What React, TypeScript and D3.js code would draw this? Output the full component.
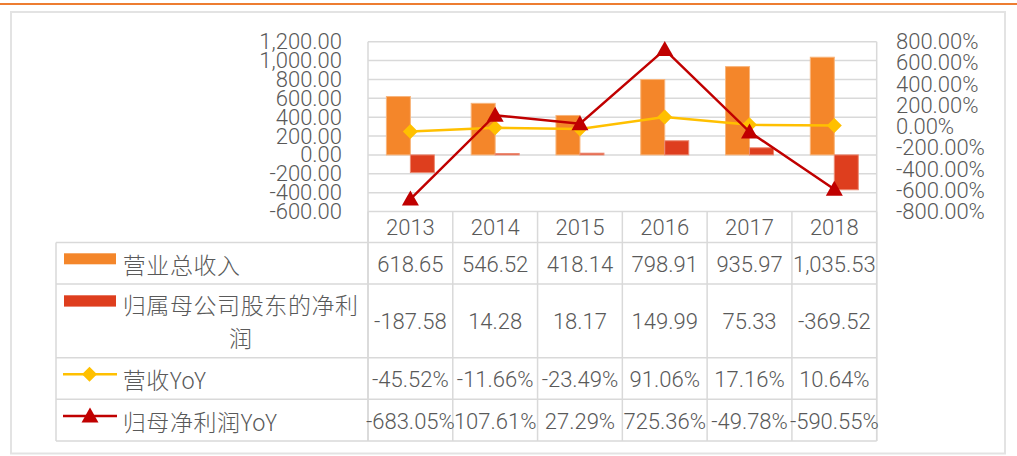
import React from 'react';
import * as d3 from 'd3';

const years = ['2013', '2014', '2015', '2016', '2017', '2018'];
const revenue = [618.65, 546.52, 418.14, 798.91, 935.97, 1035.53];
const netProfit = [-187.58, 14.28, 18.17, 149.99, 75.33, -369.52];
const revenueYoY = [-45.52, -11.66, -23.49, 91.06, 17.16, 10.64];
const profitYoY = [-683.05, 107.61, 27.29, 725.36, -49.78, -590.55];
const leftTicks = [-600, -400, -200, 0, 200, 400, 600, 800, 1000, 1200];
const rightTicks = [-800, -600, -400, -200, 0, 200, 400, 600, 800];

const W = 1017;
const H = 456;
const plotL = 368;
const plotR = 876.7;
const plotT = 41.7;
const plotB = 211.5;

const TXT = '#595959';
const GRID = '#d9d9d9';
const NUM_FONT = 'Roboto, "Liberation Sans", Arial, sans-serif';
const CJK_FONT = '"Noto Sans CJK SC", "Noto Sans", sans-serif';

const C_REV = '#F4862A';
const C_NP = '#DE3E1E';
const C_RYOY = '#FFC000';
const C_PYOY = '#C00000';

export default function App() {
  const x = d3.scaleBand<string>().domain(years).range([plotL, plotR]).padding(0);
  const yL = d3.scaleLinear().domain([-600, 1200]).range([plotB, plotT]);
  const yR = d3.scaleLinear().domain([-800, 800]).range([plotB, plotT]);
  const bw = x.bandwidth() * 0.283;
  const cx = (y: string) => (x(y) as number) + x.bandwidth() / 2;

  const fix = (s: string) => s.replace(/\u2212/g, '-');
  const fmtNum = (v: number) => fix(d3.format(',.2f')(v));
  const fmtPct = (v: number) => fix(d3.format('.2f')(v)) + '%';

  const lineR = d3.line<number>().x((_, i) => cx(years[i])).y((v) => yR(v));

  const tableTop = 242.5;
  const rowLines = [tableTop, 284, 357.7, 399.3, 441];
  const rowCenters = [264, 321, 379, 421.5];
  const tableL = 56;
  const boundaries = years.map((y) => x(y) as number).concat([plotR]);

  const rows: { vals: string[] }[] = [
    { vals: revenue.map(fmtNum) },
    { vals: netProfit.map(fmtNum) },
    { vals: revenueYoY.map(fmtPct) },
    { vals: profitYoY.map(fmtPct) },
  ];

  const dia = (px: number, py: number) =>
    `M${px},${py - 7.5}L${px + 7.5},${py}L${px},${py + 7.5}L${px - 7.5},${py}Z`;
  const tri = (px: number, py: number) =>
    `M${px},${py - 8.5}L${px + 8.5},${py + 6.5}L${px - 8.5},${py + 6.5}Z`;

  return (
    <svg
      width={W}
      height={H}
      style={{ position: 'absolute', left: 0, top: 0, background: '#fff' }}
    >
      <rect x={0} y={0} width={W} height={H} fill="#fff" />
      <line x1={0} x2={W} y1={4} y2={4} stroke="#ED7D31" strokeWidth={2} />
      <rect x={11} y={12} width={994} height={441.5} fill="none" stroke="#e3e3e3" strokeWidth={2} />

      {/* gridlines */}
      {leftTicks.map((t) => (
        <line key={'g' + t} x1={plotL} x2={plotR} y1={yL(t)} y2={yL(t)} stroke={GRID} strokeWidth={1.5} />
      ))}
      <line x1={plotL} x2={plotL} y1={plotT} y2={rowLines[rowLines.length - 1]} stroke={GRID} strokeWidth={1.5} />
      <line x1={plotR} x2={plotR} y1={plotT} y2={rowLines[rowLines.length - 1]} stroke={GRID} strokeWidth={1.5} />

      {/* left axis labels */}
      {leftTicks.map((t) => (
        <text
          key={'l' + t}
          x={342}
          y={yL(t)}
          textAnchor="end"
          dominantBaseline="central"
          fontFamily={NUM_FONT}
          fontWeight={300}
          fontSize={22}
          fill={TXT}
        >
          {fmtNum(t)}
        </text>
      ))}
      {/* right axis labels */}
      {rightTicks.map((t) => (
        <text
          key={'r' + t}
          x={896}
          y={yR(t)}
          textAnchor="start"
          dominantBaseline="central"
          fontFamily={NUM_FONT}
          fontWeight={300}
          fontSize={22}
          fill={TXT}
        >
          {fmtPct(t)}
        </text>
      ))}

      {/* bars */}
      {years.map((y, i) => {
        const c = cx(y);
        const r0 = yL(0);
        const rv = yL(revenue[i]);
        const nv = yL(netProfit[i]);
        return (
          <g key={'b' + y}>
            <rect
              x={c - bw}
              y={Math.min(r0, rv)}
              width={bw}
              height={Math.abs(r0 - rv)}
              fill={C_REV}
              stroke="#F8B57C"
              strokeWidth={1}
            />
            <rect
              x={c}
              y={Math.min(r0, nv)}
              width={bw}
              height={Math.abs(r0 - nv)}
              fill={C_NP}
              stroke="#EC8A72"
              strokeWidth={1}
            />
          </g>
        );
      })}

      {/* lines */}
      <path d={lineR(revenueYoY) || ''} fill="none" stroke={C_RYOY} strokeWidth={2.5} />
      {revenueYoY.map((v, i) => (
        <path key={'d' + i} d={dia(cx(years[i]), yR(v))} fill={C_RYOY} />
      ))}
      <path d={lineR(profitYoY) || ''} fill="none" stroke={C_PYOY} strokeWidth={2.5} />
      {profitYoY.map((v, i) => (
        <path key={'t' + i} d={tri(cx(years[i]), yR(v))} fill={C_PYOY} />
      ))}

      {/* category row */}
      {boundaries.map((b, i) => (
        <line key={'vb' + i} x1={b} x2={b} y1={plotB} y2={rowLines[rowLines.length - 1]} stroke={GRID} strokeWidth={1.5} />
      ))}
      {years.map((y) => (
        <text
          key={'y' + y}
          x={cx(y)}
          y={227}
          textAnchor="middle"
          dominantBaseline="central"
          fontFamily={NUM_FONT}
          fontWeight={300}
          fontSize={22}
          fill={TXT}
        >
          {y}
        </text>
      ))}

      {/* table */}
      {rowLines.map((ry, i) => (
        <line key={'h' + i} x1={tableL} x2={plotR} y1={ry} y2={ry} stroke={GRID} strokeWidth={1.5} />
      ))}
      <line x1={tableL} x2={tableL} y1={tableTop} y2={rowLines[rowLines.length - 1]} stroke={GRID} strokeWidth={1.5} />

      {rows.map((row, ri) =>
        row.vals.map((v, ci) => (
          <text
            key={'c' + ri + '-' + ci}
            x={cx(years[ci])}
            y={rowCenters[ri]}
            textAnchor="middle"
            dominantBaseline="central"
            fontFamily={NUM_FONT}
            fontWeight={300}
            fontSize={22}
            fill={TXT}
          >
            {v}
          </text>
        ))
      )}

      {/* legend keys */}
      <rect x={64} y={253.3} width={52} height={11} fill={C_REV} />
      <rect x={64} y={295.3} width={52} height={11.3} fill={C_NP} />
      <line x1={63} x2={117} y1={374.3} y2={374.3} stroke={C_RYOY} strokeWidth={2.5} />
      <path d={dia(89.5, 374.3)} fill={C_RYOY} />
      <line x1={63} x2={117} y1={416} y2={416} stroke={C_PYOY} strokeWidth={2.5} />
      <path d={tri(90, 416)} fill={C_PYOY} />

      {/* legend labels */}
      <g fontFamily={CJK_FONT} fontSize={23} fill={TXT} fontWeight={300} letterSpacing={0.6}>
        <text x={122.7} y={263.5} dominantBaseline="central">营业总收入</text>
        <text x={122.7} y={304} dominantBaseline="central">归属母公司股东的净利</text>
        <text x={240.7} y={337} dominantBaseline="central" textAnchor="middle">润</text>
        <text x={122.7} y={378.5} dominantBaseline="central">营收YoY</text>
        <text x={122.7} y={420.5} dominantBaseline="central">归母净利润YoY</text>
      </g>
    </svg>
  );
}
